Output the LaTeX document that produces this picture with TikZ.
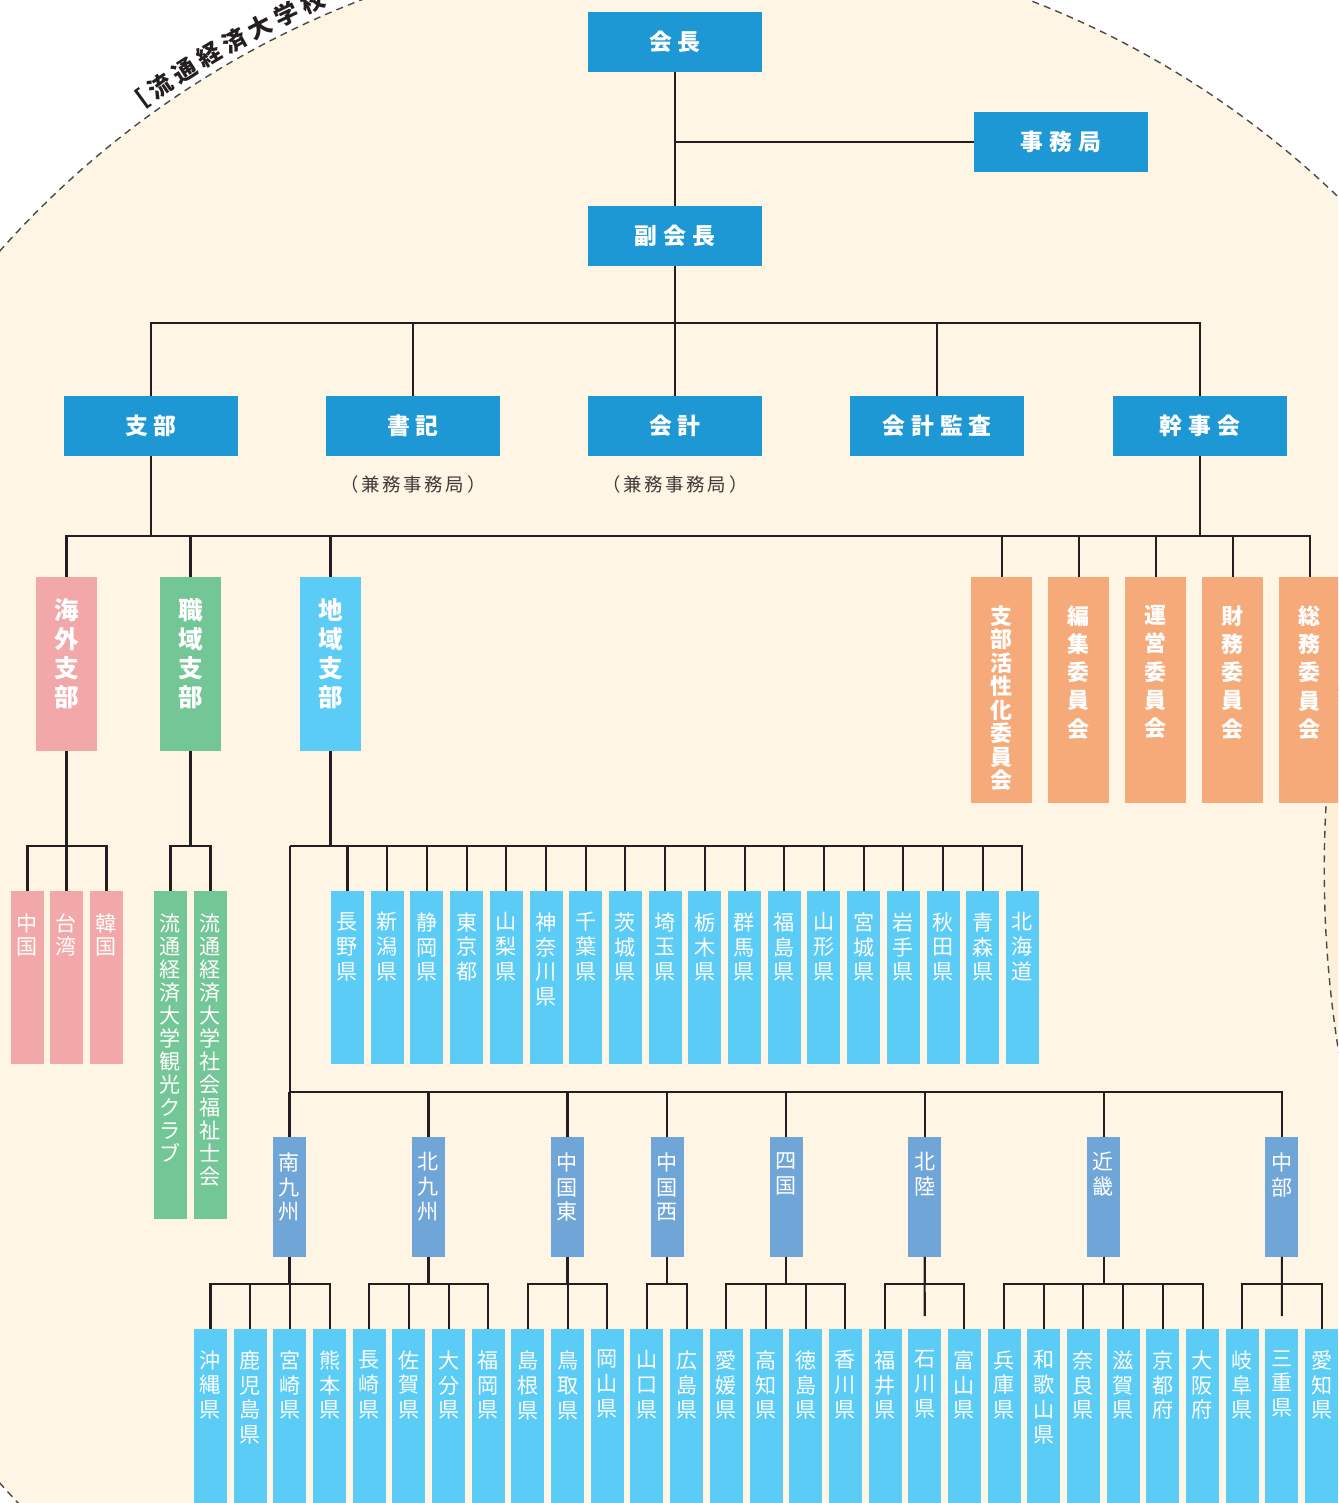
\documentclass[tikz,border=0pt]{standalone}
\usepackage{fontspec}
\newfontfamily\jp{Noto Sans CJK JP}
\usetikzlibrary{calc}
\definecolor{cream}{HTML}{FEF5E4}
\definecolor{cream2}{HTML}{FDEFD8}
\definecolor{hdrblue}{HTML}{1E98D5}
\definecolor{pinkc}{HTML}{F2A8A8}
\definecolor{greenc}{HTML}{73C696}
\definecolor{skyc}{HTML}{5BCCF6}
\definecolor{regc}{HTML}{70A6D7}
\definecolor{orangec}{HTML}{F6AA79}
\definecolor{linec}{HTML}{231F20}
\definecolor{capc}{HTML}{3E3A39}
\definecolor{dashc}{HTML}{4A4A4A}
\newcommand\lspc{\kern3.4pt}
\newcommand\cspc{\kern1.5pt}
\newcommand\vnode[7]{\node[#2, vb, label={[#6, anchor=north, yshift=-#5*0.02cm]north:#7}] (#1) at (#3,#4) {};}
\begin{document}
\begin{tikzpicture}[x=0.02cm,y=-0.02cm,
  conn/.style={draw=linec, line width=1.15pt},
  hdr/.style={rectangle, fill=hdrblue, minimum width=3.48cm, minimum height=1.2cm, inner sep=0pt, text=white, font={\jp\bfseries\fontsize{13pt}{15pt}\selectfont}},
  captext/.style={inner sep=0pt, text=capc, font={\jp\fontsize{10.5pt}{12pt}\selectfont}},
  arctext/.style={inner sep=0pt, text=linec, font={\jp\bfseries\fontsize{13.5pt}{15pt}\selectfont}},
  vb/.style={rectangle, inner sep=0pt, outer sep=0pt, anchor=north},
  bmid/.style={minimum width=1.22cm, minimum height=3.48cm},
  borange/.style={fill=orangec, minimum width=1.22cm, minimum height=4.52cm},
  bpref/.style={fill=skyc, minimum width=0.66cm, minimum height=3.46cm},
  bpink/.style={fill=pinkc, minimum width=0.66cm, minimum height=3.46cm},
  bgreen/.style={fill=greenc, minimum width=0.66cm, minimum height=6.56cm},
  breg/.style={fill=regc, minimum width=0.66cm, minimum height=2.4cm},
  bbot/.style={fill=skyc, minimum width=0.66cm, minimum height=4cm},
  vt/.style={inner sep=0pt, text=white, align=center},
  vbig/.style={vt, font={\jp\bfseries\fontsize{14pt}{16.5pt}\selectfont}},
  vor/.style={vt, font={\jp\bfseries\fontsize{12.5pt}{16.1pt}\selectfont}},
  vor8/.style={vt, font={\jp\bfseries\fontsize{12.5pt}{13.4pt}\selectfont}},
  vreg/.style={vt, font={\jp\fontsize{12pt}{14.2pt}\selectfont}},
  vsm/.style={vt, font={\jp\fontsize{12pt}{13.1pt}\selectfont}},
]
\useasboundingbox (0,0) rectangle (1338,1503);
\clip (0,0) rectangle (1338,1503);
\fill[white] (0,0) rectangle (1338,1503);
\fill[cream] (695,867) circle[radius=18.58cm];
\begin{scope}
  \clip (695,867) circle[radius=18.58cm];
  \fill[cream2] (2464,870) circle[radius=22.8cm];
\end{scope}
\draw[dashc, line width=0.8pt, dash pattern=on 4pt off 3pt] (695,867) circle[radius=18.58cm];
\draw[dashc, line width=0.8pt, dash pattern=on 4pt off 3pt] (2464,870) circle[radius=22.8cm];

% arc title
\node[arctext, rotate=36.16] (a0) at ({695+946*cos(126.16)},{867-946*sin(126.16)}) {［};
\foreach \ch [count=\k from 1] in {流,通,経,済,大,学,校} {
  \pgfmathsetmacro\ang{126.16-1.76*\k}
  \node[arctext, rotate=\ang-90] (a\k) at ({695+946*cos(\ang)},{867-946*sin(\ang)}) {\ch};
}

% header boxes
\node[hdr] (kaicho) at (675,42) {会\lspc 長};
\node[hdr] (jimu) at (1061,142) {事\lspc 務\lspc 局};
\node[hdr] (fuku) at (675,236) {副\lspc 会\lspc 長};
\node[hdr] (shibu) at (151,426) {支\lspc 部};
\node[hdr] (shoki) at (413,426) {書\lspc 記};
\node[hdr] (kaikei) at (675,426) {会\lspc 計};
\node[hdr] (kansa) at (937,426) {会\lspc 計\lspc 監\lspc 査};
\node[hdr] (kanji) at (1200,426) {幹\lspc 事\lspc 会};
\node[captext] (cap1) at (413,484) {（\cspc 兼\cspc 務\cspc 事\cspc 務\cspc 局\cspc ）};
\node[captext] (cap2) at (675,484) {（\cspc 兼\cspc 務\cspc 事\cspc 務\cspc 局\cspc ）};

% second level
\vnode{kaigai}{bmid, fill=pinkc}{66.5}{577}{21}{vbig}{海\\外\\支\\部}
\vnode{shokuiki}{bmid, fill=greenc}{190.5}{577}{21}{vbig}{職\\域\\支\\部}
\vnode{chiiki}{bmid, fill=skyc}{330.5}{577}{21}{vbig}{地\\域\\支\\部}
\vnode{o1}{borange}{1001.5}{577}{28}{vor8}{支\\部\\活\\性\\化\\委\\員\\会}
\vnode{o2}{borange}{1078.5}{577}{28}{vor}{編\\集\\委\\員\\会}
\vnode{o3}{borange}{1155.5}{577}{28}{vor}{運\\営\\委\\員\\会}
\vnode{o4}{borange}{1232.5}{577}{28}{vor}{財\\務\\委\\員\\会}
\vnode{o5}{borange}{1309.5}{577}{28}{vor}{総\\務\\委\\員\\会}

% overseas and workplace children
\vnode{c1}{bpink}{27.5}{891}{22}{vsm}{中\\国}
\vnode{c2}{bpink}{66.5}{891}{22}{vsm}{台\\湾}
\vnode{c3}{bpink}{106.5}{891}{22}{vsm}{韓\\国}
\vnode{g1}{bgreen}{170.5}{891}{22}{vsm}{流\\通\\経\\済\\大\\学\\観\\光\\ク\\ラ\\ブ}
\vnode{g2}{bgreen}{210.5}{891}{22}{vsm}{流\\通\\経\\済\\大\\学\\社\\会\\福\\祉\\士\\会}

% top prefectures
\foreach \t [count=\i from 0] in {長\\野\\県,新\\潟\\県,静\\岡\\県,東\\京\\都,山\\梨\\県,神\\奈\\川\\県,千\\葉\\県,茨\\城\\県,埼\\玉\\県,栃\\木\\県,群\\馬\\県,福\\島\\県,山\\形\\県,宮\\城\\県,岩\\手\\県,秋\\田\\県,青\\森\\県,北\\海\\道} {
  \vnode{p\i}{bpref}{347.5+39.7*\i}{891}{21}{vreg}{\t}
}

% regional blocks
\vnode{r1}{breg}{289.5}{1137}{15}{vreg}{南\\九\\州}
\vnode{r2}{breg}{428.5}{1137}{15}{vreg}{北\\九\\州}
\vnode{r3}{breg}{567.5}{1137}{15}{vreg}{中\\国\\東}
\vnode{r4}{breg}{667}{1137}{15}{vreg}{中\\国\\西}
\vnode{r5}{breg}{786}{1137}{15}{vreg}{四\\国}
\vnode{r6}{breg}{924.7}{1137}{15}{vreg}{北\\陸}
\vnode{r7}{breg}{1103.5}{1137}{15}{vreg}{近\\畿}
\vnode{r8}{breg}{1281.9}{1137}{15}{vreg}{中\\部}

% bottom prefectures
\foreach \t [count=\j from 0] in {沖\\縄\\県,鹿\\児\\島\\県,宮\\崎\\県,熊\\本\\県,長\\崎\\県,佐\\賀\\県,大\\分\\県,福\\岡\\県,島\\根\\県,鳥\\取\\県,岡\\山\\県,山\\口\\県,広\\島\\県,愛\\媛\\県,高\\知\\県,徳\\島\\県,香\\川\\県,福\\井\\県,石\\川\\県,富\\山\\県,兵\\庫\\県,和\\歌\\山\\県,奈\\良\\県,滋\\賀\\県,京\\都\\府,大\\阪\\府,岐\\阜\\県,三\\重\\県,愛\\知\\県} {
  \vnode{q\j}{bbot}{210.5+39.68*\j}{1329}{21}{vreg}{\t}
}

% connectors
\coordinate (busA) at (0,536);
\coordinate (hubL) at (290,846);
\coordinate (hubR) at (290,1092);
\draw[conn] (kaicho.south) -- (fuku.north);
\draw[conn] (jimu.west) -- (jimu.west -| kaicho.south);
\foreach \n in {shibu,shoki,kaikei,kansa,kanji} \draw[conn] (fuku.south) -- ++(0,57) -| (\n.north);
\foreach \n in {kaigai,shokuiki,chiiki} \draw[conn] (shibu.south) -- ++(0,80) -| (\n.north);
\foreach \n in {o1,o2,o3,o4,o5} \draw[conn] (kanji.south) -- ++(0,80) -| (\n.north);
\draw[conn] (chiiki.north |- busA) -- (o1.north |- busA);
\foreach \n in {c1,c2,c3} \draw[conn] (kaigai.south) -- ++(0,95) -| (\n.north);
\foreach \n in {g1,g2} \draw[conn] (shokuiki.south) -- ++(0,95) -| (\n.north);
\draw[conn] (chiiki.south) -- (chiiki.south |- hubL);
\draw[conn] (hubL) -| (p17.north);
\foreach \i in {0,...,16} \draw[conn] (p\i.north) -- (p\i.north |- hubL);
\draw[conn] (hubL) -- (hubR) -| (r8.north);
\foreach \i in {1,...,7} \draw[conn] (r\i.north) -- (r\i.north |- hubR);
\foreach \n in {q0,q1,q2,q3} \draw[conn] (r1.south) -- ++(0,27) -| (\n.north);
\foreach \n in {q4,q5,q6,q7} \draw[conn] (r2.south) -- ++(0,27) -| (\n.north);
\foreach \n in {q8,q9,q10} \draw[conn] (r3.south) -- ++(0,27) -| (\n.north);
\foreach \n in {q11,q12} \draw[conn] (r4.south) -- ++(0,27) -| (\n.north);
\foreach \n in {q13,q14,q15,q16} \draw[conn] (r5.south) -- ++(0,27) -| (\n.north);
\foreach \n in {q17,q19} \draw[conn] (r6.south) -- ++(0,27) -| (\n.north);
\draw[conn] (r6.south) -- ([yshift=0.26cm]q18.north);
\foreach \n in {q20,q21,q22,q23,q24,q25} \draw[conn] (r7.south) -- ++(0,27) -| (\n.north);
\foreach \n in {q26,q28} \draw[conn] (r8.south) -- ++(0,27) -| (\n.north);
\draw[conn] (r8.south) -- ([yshift=0.26cm]q27.north);
\end{tikzpicture}
\end{document}
